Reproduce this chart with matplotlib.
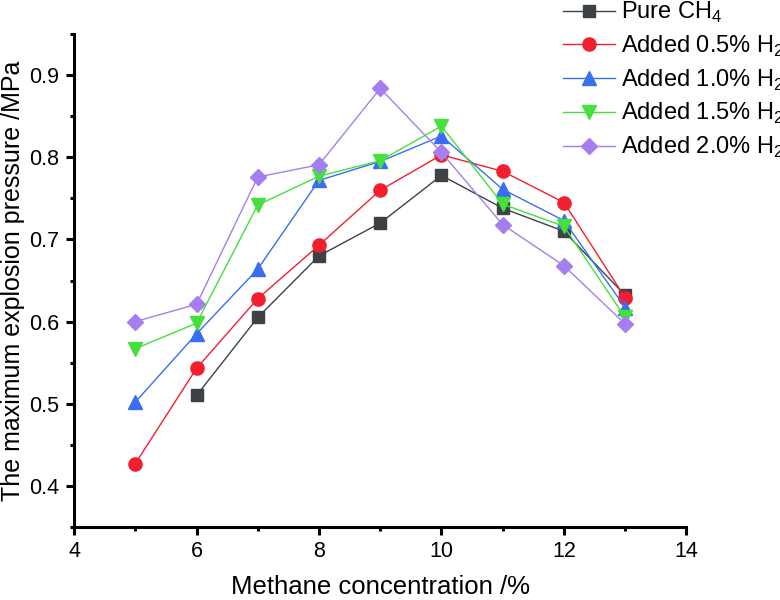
import matplotlib.pyplot as plt
from matplotlib.ticker import MultipleLocator

plt.rcParams['font.family'] = ['Liberation Sans', 'DejaVu Sans']
plt.rcParams['mathtext.fontset'] = 'custom'
plt.rcParams['mathtext.rm'] = 'Liberation Sans'

conc = [5, 6, 7, 8, 9, 10, 11, 12, 13]
conc_pure = [6, 7, 8, 9, 10, 11, 12, 13]

pure_ch4 = [0.510, 0.605, 0.680, 0.720, 0.778, 0.738, 0.710, 0.632]
h2_05 = [0.427, 0.543, 0.628, 0.693, 0.760, 0.803, 0.783, 0.745, 0.629]
h2_10 = [0.502, 0.585, 0.664, 0.772, 0.795, 0.826, 0.761, 0.723, 0.617]
h2_15 = [0.567, 0.598, 0.742, 0.777, 0.796, 0.838, 0.743, 0.716, 0.605]
h2_20 = [0.600, 0.621, 0.776, 0.791, 0.884, 0.806, 0.718, 0.668, 0.597]

labels = ['Pure CH$_\\mathrm{4}$', 'Added 0.5% H$_\\mathrm{2}$', 'Added 1.0% H$_\\mathrm{2}$',
          'Added 1.5% H$_\\mathrm{2}$', 'Added 2.0% H$_\\mathrm{2}$']

fig, ax = plt.subplots(figsize=(7.8, 6), dpi=100)
fig.subplots_adjust(left=0.095, right=0.88, bottom=0.122, top=0.943)

ax.plot(conc_pure, pure_ch4, marker='s', ms=8, lw=1.0, color='#3d4247', label=labels[0])
ax.plot(conc, h2_05, marker='o', ms=9.5, lw=1.0, color='#f2202f', label=labels[1])
ax.plot(conc, h2_10, marker='^', ms=10, lw=1.0, color='#3a6ef0', label=labels[2])
ax.plot(conc, h2_15, marker='v', ms=10, lw=1.0, color='#44e03c', label=labels[3])
ax.plot(conc, h2_20, marker='D', ms=8, lw=1.0, color='#a57ff0', label=labels[4])

ax.set_xlim(4, 14)
ax.set_ylim(0.35, 0.95)
ax.xaxis.set_major_locator(MultipleLocator(2))
ax.xaxis.set_minor_locator(MultipleLocator(1))
ax.yaxis.set_minor_locator(MultipleLocator(0.05))
ax.set_yticks([0.4, 0.5, 0.6, 0.7, 0.8, 0.9])

for s in ['top', 'right']:
    ax.spines[s].set_visible(False)
for s in ['left', 'bottom']:
    ax.spines[s].set_linewidth(2.2)
ax.tick_params(which='major', direction='out', length=5.5, width=2.2, labelsize=15.5, pad=5)
ax.tick_params(which='minor', direction='out', length=3, width=2.2)

ax.set_xlabel('Methane concentration /%', fontsize=18.5, labelpad=9)
ax.set_ylabel('The maximum explosion pressure /MPa', fontsize=18, labelpad=3)

fig.legend(loc='upper left', bbox_to_anchor=(563 / 780, 1.0), frameon=False,
           fontsize=17, handlelength=2.2, labelspacing=0.36, handletextpad=0.25,
           borderpad=0, borderaxespad=0)

plt.savefig('out.png', dpi=100)
